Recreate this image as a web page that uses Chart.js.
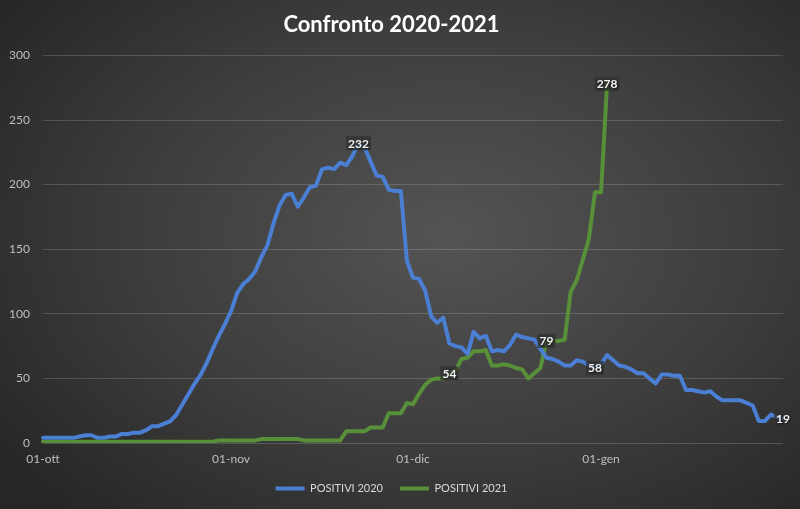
<!DOCTYPE html>
<html>
<head>
<meta charset="utf-8">
<script src="https://cdn.jsdelivr.net/npm/chart.js@4.4.1/dist/chart.umd.min.js"></script>
<style>
    html, body { margin: 0; padding: 0; }
    #wrap {
        width: 800px;
        height: 509px;
        background: radial-gradient(ellipse 70% 75% at 56% 46%, #545454 0%, #3d3d3d 55%, #262626 100%);
    }
</style>
</head>
<body>
<div id="wrap"><canvas id="chart" width="800" height="509"></canvas></div>
<script>
const months = ['ott', 'nov', 'dic', 'gen'];
const monthDays = [31, 30, 31, 31];

const positivi2020 = [
    4, 4, 4, 4, 4, 4, 5, 6, 6, 4,
    4, 5, 5, 7, 7, 8, 8, 10, 13, 13,
    15, 17, 22, 30, 38, 46, 53, 62, 73, 83,
    92, 102, 116, 123, 127, 133, 144, 153, 170, 184,
    192, 193, 183, 190, 198, 199, 212, 213, 212, 217,
    215, 222, 232, 229, 218, 207, 206, 196, 195, 195,
    141, 128, 127, 118, 98, 93, 97, 77, 75, 74,
    69, 86, 81, 83, 71, 72, 71, 76, 84, 82,
    81, 80, 73, 66, 65, 63, 60, 60, 64, 63,
    60, 58, 61, 68, 64, 60, 59, 57, 54, 54,
    50, 46, 53, 53, 52, 52, 41, 41, 40, 39,
    40, 36, 33, 33, 33, 33, 31, 29, 17, 17,
    22, 20, 19
];

const positivi2021 = [
    1, 1, 1, 1, 1, 1, 1, 1, 1, 1,
    1, 1, 1, 1, 1, 1, 1, 1, 1, 1,
    1, 1, 1, 1, 1, 1, 1, 1, 1, 2,
    2, 2, 2, 2, 2, 2, 3, 3, 3, 3,
    3, 3, 3, 2, 2, 2, 2, 2, 2, 2,
    9, 9, 9, 9, 12, 12, 12, 23, 23, 23,
    31, 30, 38, 45, 49, 50, 50, 54, 56, 65,
    66, 71, 71, 72, 60, 60, 61, 60, 58, 57,
    50, 54, 58, 79, 79, 79, 80, 117, 126, 142,
    158, 194, 194, 278
];

// which points carry a value label
const labeled2020 = [52, 91, 122];
const labeled2021 = [67, 83, 93];

const yTicks = [0, 50, 100, 150, 200, 250, 300];

const days = [];
months.forEach((m, mi) => {
    for (let d = 1; d <= monthDays[mi]; d++) {
        days.push(String(d).padStart(2, '0') + '-' + m);
    }
});

const pointLabels = {
    id: 'pointLabels',
    afterDatasetsDraw(chart) {
        const ctx = chart.ctx;
        const sets = [labeled2020, labeled2021];
        chart.data.datasets.forEach((ds, di) => {
            const meta = chart.getDatasetMeta(di);
            sets[di].forEach(i => {
                const pt = meta.data[i];
                const txt = String(ds.data[i]);
                ctx.save();
                ctx.font = 'bold 12px Lato';
                const w = ctx.measureText(txt).width;
                ctx.fillStyle = 'rgba(48,48,48,0.75)';
                ctx.fillRect(pt.x - w / 2 - 2, pt.y - 7, w + 4, 14);
                ctx.shadowColor = 'rgba(0,0,0,0.6)';
                ctx.shadowBlur = 2;
                ctx.shadowOffsetX = 1;
                ctx.shadowOffsetY = 1;
                ctx.fillStyle = '#f2f2f2';
                ctx.textAlign = 'center';
                ctx.textBaseline = 'middle';
                ctx.fillText(txt, pt.x, pt.y + 0.5);
                ctx.restore();
            });
        });
    }
};

Chart.defaults.font.family = 'Lato';

new Chart(document.getElementById('chart'), {
    type: 'line',
    data: {
        labels: days,
        datasets: [
            {
                label: 'POSITIVI 2020',
                data: positivi2020,
                borderColor: '#4a7fd4',
                backgroundColor: '#4a7fd4',
                borderWidth: 4,
                pointRadius: 0,
                tension: 0,
                borderJoinStyle: 'round',
                borderCapStyle: 'round'
            },
            {
                label: 'POSITIVI 2021',
                data: positivi2021,
                borderColor: '#58903a',
                backgroundColor: '#58903a',
                borderWidth: 4,
                pointRadius: 0,
                tension: 0,
                borderJoinStyle: 'round',
                borderCapStyle: 'round'
            }
        ]
    },
    options: {
        responsive: false,
        animation: false,
        layout: { padding: { left: 0, right: 17, top: 0, bottom: 5 } },
        plugins: {
            title: {
                display: true,
                text: 'Confronto 2020-2021',
                color: '#ffffff',
                font: { size: 22, weight: 'bold' },
                padding: { top: 12, bottom: 17 }
            },
            legend: {
                position: 'bottom',
                labels: {
                    color: '#d9d9d9',
                    font: { size: 11 },
                    usePointStyle: true,
                    pointStyle: 'line',
                    pointStyleWidth: 29,
                    padding: 17
                }
            },
            tooltip: { enabled: false }
        },
        scales: {
            x: {
                type: 'category',
                offset: false,
                afterFit: s => { s.height = 23; },
                grid: { display: false, drawTicks: false },
                border: { display: false },
                ticks: {
                    autoSkip: false,
                    maxRotation: 0,
                    padding: 9,
                    color: '#bfbfbf',
                    font: { size: 12 },
                    callback: function (v) {
                        const l = this.getLabelForValue(v);
                        return l.startsWith('01-') ? l : '';
                    }
                }
            },
            y: {
                min: yTicks[0],
                max: yTicks[yTicks.length - 1],
                afterFit: s => { s.width = 43; },
                afterBuildTicks: s => { s.ticks = yTicks.map(v => ({ value: v })); },
                grid: { color: 'rgba(255,255,255,0.16)', drawTicks: false },
                border: { display: false },
                ticks: { padding: 13, color: '#bfbfbf', font: { size: 12 } }
            }
        }
    },
    plugins: [pointLabels]
});
</script>
</body>
</html>
